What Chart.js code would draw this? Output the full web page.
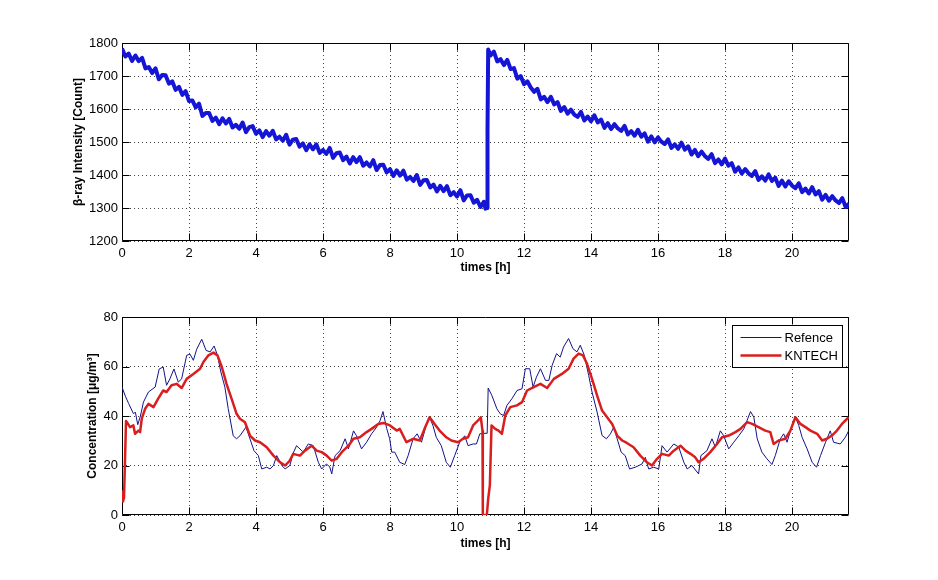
<!DOCTYPE html>
<html><head><meta charset="utf-8">
<script src="https://cdn.jsdelivr.net/npm/chart.js@4/dist/chart.umd.min.js"></script>
<style>
html,body{margin:0;padding:0;background:#fff;}
#wrap{position:relative;width:938px;height:580px;background:#fff;}
.cv{position:absolute;left:0;width:938px;height:290px;}
</style></head><body>
<div id="wrap">
<div class="cv" style="top:0"><canvas id="c1" width="938" height="290"></canvas></div>
<div class="cv" style="top:290px"><canvas id="c2" width="938" height="290"></canvas></div>
</div>
<script>
// ---------- tick labels ----------
const xTicks = [0, 2, 4, 6, 8, 10, 12, 14, 16, 18, 20];
const topYTicks = [1200, 1300, 1400, 1500, 1600, 1700, 1800];
const botYTicks = [0, 20, 40, 60, 80];

// ---------- top: beta-ray intensity, sampled every 0.1 h ----------
const betaStep = 0.1;
const betaA = [ // 0.0 .. 10.8 h
1783,1759,1768,1746,1762,1745,1755,1723,1727,1709,
1723,1690,1703,1702,1677,1684,1658,1667,1643,1654,
1624,1626,1605,1616,1579,1588,1588,1564,1574,1554,
1572,1556,1570,1544,1552,1540,1559,1530,1545,1548,
1525,1535,1515,1533,1519,1534,1508,1516,1504,1522,
1492,1507,1509,1486,1496,1475,1493,1478,1493,1467,
1476,1464,1482,1452,1466,1468,1445,1456,1435,1454,
1439,1454,1428,1438,1426,1445,1415,1430,1431,1408,
1418,1397,1414,1398,1413,1386,1394,1382,1400,1370,
1384,1385,1362,1371,1350,1367,1351,1366,1339,1348,
1335,1354,1323,1338,1339,1316,1325,1303,1319];
const betaJumpHours = [10.85, 10.90, 10.91, 10.93];
const betaJumpValues = [1298, 1300, 1536, 1780];
const betaBStart = 11.0;
const betaB = [ // 11.0 .. 21.7 h
1762,1774,1744,1751,1733,1749,1721,1724,1692,1700,
1675,1684,1665,1652,1661,1629,1637,1621,1637,1614,
1621,1594,1606,1586,1598,1583,1576,1591,1565,1577,
1563,1581,1559,1568,1543,1557,1539,1554,1541,1534,
1549,1523,1533,1519,1537,1516,1526,1501,1517,1499,
1514,1501,1494,1508,1482,1493,1479,1498,1477,1487,
1462,1476,1457,1471,1457,1449,1463,1436,1447,1432,
1450,1428,1436,1410,1423,1404,1418,1405,1397,1412,
1385,1396,1383,1402,1382,1392,1367,1383,1365,1381,
1368,1360,1375,1348,1359,1344,1363,1341,1351,1325,
1340,1322,1336,1323,1315,1330,1303,1313];

// ---------- bottom: concentration ----------
const refHours = [0,0.1,0.2,0.34,0.4,0.47,0.55,0.64,0.79,0.99,1.11,1.23,1.33,1.43,1.55,1.68,1.78,1.93,2.03,2.13,2.23,2.38,2.51,2.63,2.75,2.85,2.95,3.07,3.17,3.32,3.42,3.52,3.7,3.82,3.94,4.07,4.17,4.32,4.42,4.52,4.62,4.77,4.87,5.01,5.11,5.21,5.41,5.56,5.71,5.86,5.96,6.1,6.2,6.26,6.36,6.51,6.66,6.76,6.91,7.0,7.15,7.3,7.45,7.6,7.7,7.79,7.9,7.99,8.05,8.14,8.29,8.44,8.54,8.69,8.81,8.94,9.08,9.18,9.28,9.38,9.53,9.68,9.8,9.93,10.08,10.23,10.33,10.48,10.58,10.68,10.8,10.9,10.93,11.04,11.19,11.29,11.39,11.49,11.64,11.79,11.94,12.04,12.17,12.27,12.37,12.49,12.64,12.74,12.84,12.97,13.08,13.18,13.33,13.46,13.58,13.68,13.8,13.93,14.03,14.18,14.33,14.46,14.58,14.68,14.78,14.9,15.02,15.15,15.32,15.52,15.62,15.72,15.87,16.02,16.12,16.27,16.47,16.62,16.77,16.87,17.01,17.21,17.28,17.46,17.61,17.71,17.86,17.96,18.11,18.26,18.41,18.56,18.76,18.86,18.96,19.1,19.25,19.4,19.5,19.65,19.75,19.85,20.0,20.1,20.2,20.3,20.45,20.6,20.73,20.85,21.0,21.14,21.24,21.44,21.59,21.69];
const refValues = [51.7,48,45,41,41.5,36.5,40,45.6,49.7,51.7,59,59.8,52.4,55,59,53.7,55,64.5,65,62.5,67,71,66.5,65.9,68.3,64.5,57.8,51.7,43,32,30.8,32,35.5,30.8,26,24,18.6,19.3,18.6,20,24,20,18.6,20,25,28,25.4,28.7,28,21.3,18.6,20.6,19.5,16.6,24,26,30.8,26.7,34,32,26.7,29.4,32.8,35.5,38,41.8,35,30.8,25.4,25.4,21.3,20.4,24,30.8,32.8,29.4,36.2,39.5,36.2,31.4,28,21.3,19.3,24,29.4,32,28,28.7,28.7,32.8,33,33,51.3,48.3,42.9,40.9,40.2,44.3,47,50.3,51,59.1,59.1,51.7,55.7,59.1,54.4,54.4,60.5,65.2,63.8,67.9,71.3,67.2,65.9,68.6,64.5,56.4,49.7,41.6,32.1,30.8,32.8,35.5,30.8,25.4,24,18.6,19.3,20.6,23.3,18.6,19.3,18.6,28,25.4,28.7,27.4,21.3,18.6,20,16.6,24,26,30.8,27.4,34,32,26.7,29.4,32,34.8,41.8,39.5,30.8,25.4,22.7,20.4,24,30.8,32.8,29.4,36.2,39.5,36.2,31.4,26.7,21.3,19.3,24,29.4,34,29.4,28.7,31.4,34];

const kntHours = [0,0.03,0.06,0.09,0.12,0.17,0.24,0.34,0.39,0.49,0.54,0.59,0.69,0.79,0.94,1.08,1.23,1.33,1.48,1.63,1.78,1.93,2.13,2.33,2.43,2.58,2.73,2.85,2.98,3.12,3.27,3.42,3.52,3.67,3.82,3.97,4.12,4.32,4.52,4.72,4.87,5.01,5.11,5.31,5.46,5.66,5.81,5.96,6.11,6.26,6.41,6.56,6.76,6.91,7.1,7.3,7.45,7.65,7.8,8.0,8.2,8.29,8.49,8.69,8.89,9.03,9.18,9.33,9.48,9.68,9.83,10.03,10.18,10.33,10.48,10.63,10.71,10.76,10.77,10.89,10.93,10.98,11.03,11.14,11.24,11.34,11.44,11.59,11.79,11.94,12.09,12.29,12.49,12.69,12.89,13.13,13.33,13.48,13.63,13.76,13.88,14.03,14.18,14.33,14.48,14.63,14.78,14.93,15.07,15.27,15.47,15.67,15.82,15.97,16.12,16.32,16.47,16.67,16.82,16.97,17.11,17.21,17.36,17.56,17.76,17.91,18.11,18.31,18.46,18.66,18.81,19.0,19.2,19.35,19.45,19.6,19.8,19.95,20.1,20.25,20.4,20.55,20.75,20.9,21.04,21.19,21.34,21.49,21.69];
const kntValues = [10,5.5,7,22,38,37,35.5,36.2,32.8,34.1,33.5,38.9,42.9,44.9,43.6,47,50.3,49.7,52.4,53,51.3,55,57,59.1,61.8,64.5,65.6,64.5,59.8,53,47,40.9,38.9,37.5,32.1,30.1,29.4,27.4,24,21.3,20,22,24.7,24,26,28,26,25.4,24,22,22.7,25.4,28,30.8,31.4,33.5,34.8,36.8,37.2,36.2,34.1,34.8,29.4,30.8,30.1,34.8,39.5,36.8,34.1,31.4,30.1,29.4,30.8,31.4,36.2,38.2,39.5,34,0,0,6.5,12,36.2,34.8,34.1,32.8,40.2,43.6,44.3,45.6,50.3,51.7,53,51.3,55,57,59.1,63.2,65.2,64.5,61.1,55,48.3,42.2,39.5,36.8,32.1,30.1,29.1,27.4,24,21.3,20,22.7,24.7,24,26,28,26,24.7,23.3,21.3,22.7,25.4,28.7,31.4,32.1,33.5,34.8,37.5,36.8,35.5,34.1,33.5,28.7,30.1,30.8,34.1,39.5,36.8,35.5,34.1,32.8,30.1,30.8,32.1,34.1,36.8,39.5];

// ---------- build point lists ----------
const betaPts = [];
betaA.forEach((v, i) => betaPts.push({x: +(i * betaStep).toFixed(2), y: v}));
betaJumpHours.forEach((h, i) => betaPts.push({x: h, y: betaJumpValues[i]}));
betaB.forEach((v, i) => betaPts.push({x: +(betaBStart + i * betaStep).toFixed(2), y: v}));
const refPts = refHours.map((h, i) => ({x: h, y: refValues[i]}));
const kntPts = kntHours.map((h, i) => ({x: h, y: kntValues[i]}));

const FAM = '"Liberation Sans", Arial, Helvetica, sans-serif';
const tickFont = {family: FAM, size: 13};
const titleFont = {family: FAM, size: 12, weight: 'bold'};

const framePlugin = {
  id: 'frame',
  beforeDatasetsDraw(chart) {
    const a = chart.chartArea, ctx = chart.ctx;
    const L = Math.round(a.left) + 0.5, R = Math.round(a.right) - 0.5;
    const T = Math.round(a.top) + 0.5, B = Math.round(a.bottom) - 0.5;
    ctx.save();
    ctx.strokeStyle = '#000';
    ctx.lineWidth = 1;
    ctx.beginPath();
    ctx.rect(L, T, R - L, B - T);
    const tl = 7;
    chart.scales.x.ticks.forEach(t => {
      const px = Math.round(chart.scales.x.getPixelForValue(t.value)) + 0.5;
      ctx.moveTo(px, B); ctx.lineTo(px, B - tl);
      ctx.moveTo(px, T); ctx.lineTo(px, T + tl);
    });
    chart.scales.y.ticks.forEach(t => {
      const py = Math.round(chart.scales.y.getPixelForValue(t.value)) + 0.5;
      ctx.moveTo(L, py); ctx.lineTo(L + tl, py);
      ctx.moveTo(R, py); ctx.lineTo(R - tl, py);
    });
    ctx.stroke();
    ctx.restore();
  }
};

const legendPlugin = {
  id: 'boxLegend',
  afterDraw(chart) {
    const a = chart.chartArea, ctx = chart.ctx;
    const w = 110, h = 42;
    const x0 = Math.round(a.right) - 7 - w + 0.5, y0 = Math.round(a.top) + 8 + 0.5;
    ctx.save();
    ctx.fillStyle = '#fff';
    ctx.fillRect(x0, y0, w, h);
    ctx.strokeStyle = '#000';
    ctx.lineWidth = 1;
    ctx.strokeRect(x0, y0, w, h);
    ctx.font = '13px ' + FAM;
    ctx.textBaseline = 'middle';
    ctx.textAlign = 'left';
    chart.data.datasets.forEach((ds, i) => {
      const yy = y0 + 12 + i * 18;
      ctx.strokeStyle = ds.borderColor;
      ctx.lineWidth = ds.borderWidth;
      ctx.beginPath();
      ctx.moveTo(x0 + 8, yy); ctx.lineTo(x0 + 49, yy);
      ctx.stroke();
      ctx.fillStyle = '#000';
      ctx.fillText(ds.label, x0 + 52, yy + 0.5);
    });
    ctx.restore();
  }
};

function makeOptions(cfg) {
  return {
    responsive: false,
    animation: false,
    devicePixelRatio: 1,
    layout: {padding: {top: cfg.top, right: 89, left: 0, bottom: 0}},
    plugins: {legend: {display: false}, tooltip: {enabled: false}},
    elements: {point: {radius: 0}, line: {tension: 0}},
    scales: {
      x: {
        type: 'linear', min: 0, max: 21.7,
        afterBuildTicks: s => { s.ticks = xTicks.map(v => ({value: v})); },
        afterFit: s => { s.height = cfg.xh; },
        grid: {color: '#444', lineWidth: 1, drawTicks: false},
        border: {display: false, dash: [1, 3]},
        ticks: {color: '#000', font: tickFont, padding: 5, maxRotation: 0, autoSkip: false,
                callback: v => String(v)},
        title: {display: true, text: 'times [h]', color: '#000', font: titleFont, padding: {top: 0, bottom: cfg.xtp}}
      },
      y: {
        type: 'linear', min: cfg.ymin, max: cfg.ymax,
        afterBuildTicks: s => { s.ticks = cfg.yticks.map(v => ({value: v})); },
        afterFit: s => { s.width = 122; },
        grid: {color: '#444', lineWidth: 1, drawTicks: false},
        border: {display: false, dash: [1, 3]},
        ticks: {color: '#000', font: tickFont, padding: 4, autoSkip: false,
                callback: v => String(v)},
        title: {display: true, text: cfg.ytitle, color: '#000', font: titleFont, padding: {top: cfg.ytp, bottom: 0}}
      }
    }
  };
}

new Chart(document.getElementById('c1'), {
  type: 'line',
  data: {datasets: [{
    label: 'β-ray Intensity', data: betaPts, borderColor: '#1515d6', borderWidth: 4,
    borderJoinStyle: 'round', fill: false
  }]},
  options: makeOptions({top: 43, xh: 49, xtp: 15, ymin: 1200, ymax: 1800, yticks: topYTicks,
    ytitle: 'β-ray Intensity [Count]', ytp: 71}),
  plugins: [framePlugin]
});

new Chart(document.getElementById('c2'), {
  type: 'line',
  data: {datasets: [
    {label: 'Refence', data: refPts, borderColor: '#12128a', borderWidth: 1, fill: false, order: 1},
    {label: 'KNTECH', data: kntPts, borderColor: '#d81e1e', borderWidth: 2.5, borderJoinStyle: 'round', fill: false, order: 0}
  ]},
  options: makeOptions({top: 27, xh: 65, xtp: 29, ymin: 0, ymax: 80, yticks: botYTicks,
    ytitle: 'Concentration [μg/m³]', ytp: 85}),
  plugins: [framePlugin, legendPlugin]
});
</script>
</body></html>
